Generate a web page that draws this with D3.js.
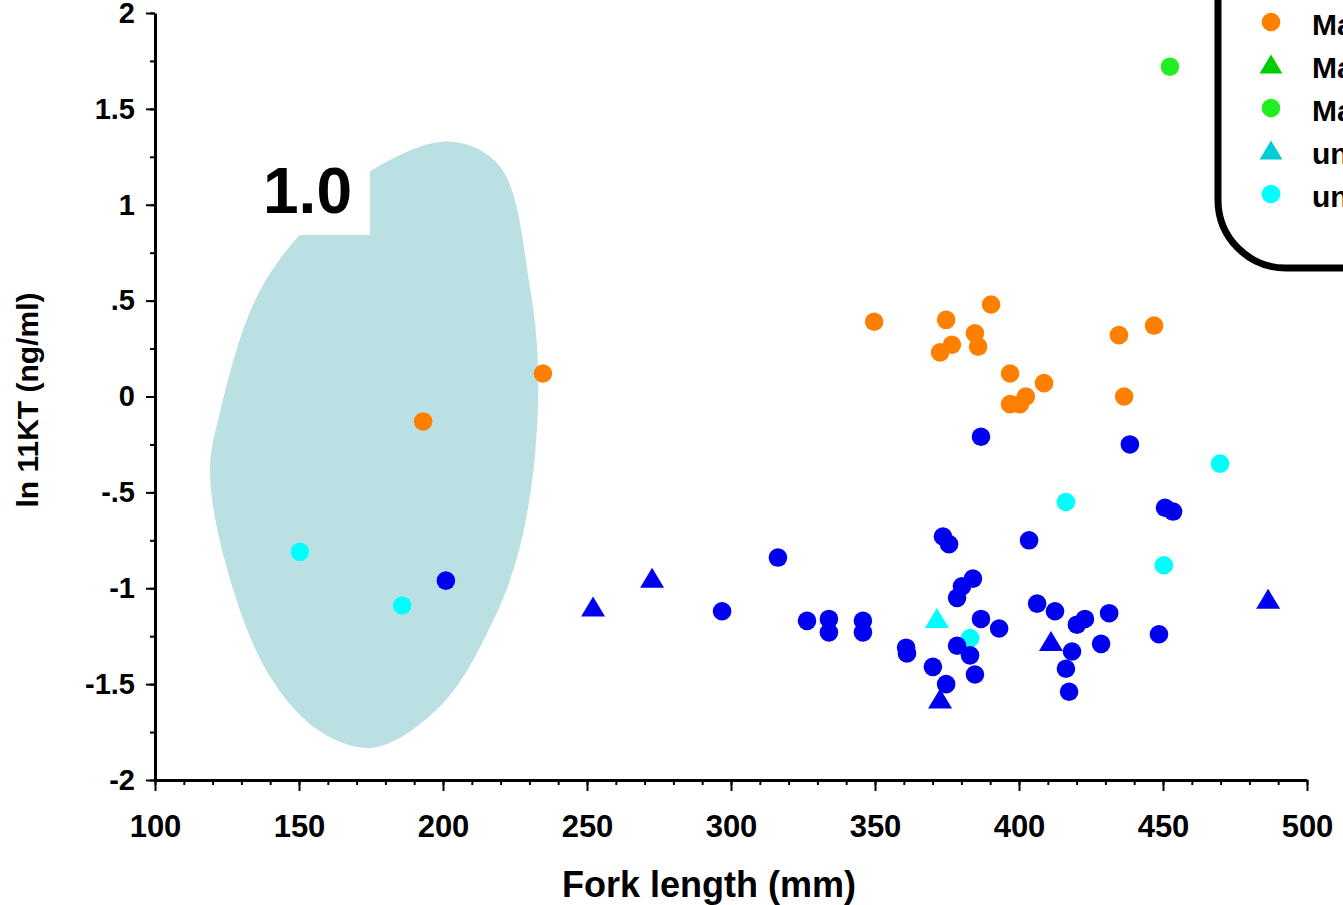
<!DOCTYPE html>
<html>
<head>
<meta charset="utf-8">
<script src="https://cdn.jsdelivr.net/npm/d3@7"></script>
<style>
body { margin: 0; background: #fff; }
svg { display: block; font-family: "Liberation Sans", Arial, sans-serif; font-weight: bold; }
</style>
</head>
<body>
<svg width="1343" height="905"></svg>
<script>
// data: [fork length (mm), ln 11KT (ng/ml)]
var maturingDots = [
    [193.1, -0.13], [234.7, 0.12], [349.7, 0.39], [374.7, 0.40], [372.6, 0.23],
    [376.7, 0.27], [384.7, 0.33], [385.8, 0.26], [390.3, 0.48], [396.9, 0.12],
    [396.9, -0.04], [400.3, -0.04], [402.4, 0.00], [408.7, 0.07], [434.7, 0.32],
    [446.9, 0.37], [436.5, 0.00]
];
var matureDots = [[452.4, 1.72]];
var unknownDots = [
    [150.3, -0.81], [185.8, -1.09], [469.8, -0.35], [416.3, -0.55], [450.3, -0.88], [383.0, -1.26]
];
var unknownTriangles = [[371.5, -1.16]];
var immatureDots = [
    [201.0, -0.96], [296.9, -1.12], [316.3, -0.84], [326.4, -1.17], [334.0, -1.16],
    [334.0, -1.23], [345.8, -1.17], [345.8, -1.23], [360.8, -1.31], [361.1, -1.34],
    [370.1, -1.41], [374.7, -1.50], [378.5, -1.30], [383.0, -1.35], [384.7, -1.45],
    [373.6, -0.73], [375.7, -0.77], [384.0, -0.95], [380.2, -0.99], [378.5, -1.05],
    [386.8, -1.16], [393.1, -1.21], [386.8, -0.21], [403.5, -0.75], [406.3, -1.08],
    [412.5, -1.12], [420.1, -1.19], [422.9, -1.16], [431.3, -1.13], [428.5, -1.29],
    [418.4, -1.33], [416.3, -1.42], [417.4, -1.54], [448.6, -1.24], [438.5, -0.25],
    [450.7, -0.58], [453.5, -0.60]
];
var immatureTriangles = [
    [252.1, -1.10], [272.6, -0.95], [372.6, -1.58], [411.1, -1.28], [486.5, -1.06]
];

// outline of the shaded "1.0" region
var regionOutline = [
    [202.1, 1.33], [219.8, 1.20], [230.2, 0.57], [233.0, 0.14], [231.3, -0.40],
    [225.7, -0.84], [217.4, -1.17], [200.0, -1.60], [176.4, -1.83], [157.6, -1.75],
    [140.3, -1.47], [126.0, -0.95], [119.1, -0.40], [122.6, -0.08], [134.7, 0.50],
    [150.0, 0.84], [175.3, 1.18]
];

var xTicks = [100, 150, 200, 250, 300, 350, 400, 450, 500];
var yTicks = [-2, -1.5, -1, -0.5, 0, 0.5, 1, 1.5, 2];
var yTickLabels = ["-2", "-1.5", "-1", "-.5", "0", ".5", "1", "1.5", "2"];

var legendLabels = ["Maturing", "Mature (site A)", "Mature (site B)", "unknown (site A)", "unknown (site B)"];
var legendColors = ["#ff8000", "#00cc00", "#22ee22", "#00ccd8", "#00ffff"];
var legendShapes = ["circle", "triangle", "circle", "triangle", "circle"];

var svg = d3.select("svg");

var x = d3.scaleLinear().domain([100, 500]).range([155, 1307]);
var y = d3.scaleLinear().domain([-2, 2]).range([780, 13]);

function triPath(s) {
    return "M0," + (-s * 0.55) + "L" + (s * 0.6) + "," + (s * 0.45) + "L" + (-s * 0.6) + "," + (s * 0.45) + "Z";
}

//////////// SHADED REGION ////////////

svg.append("path")
    .datum(regionOutline)
    .attr("d", d3.line()
        .x(function (d) { return x(d[0]); })
        .y(function (d) { return y(d[1]); })
        .curve(d3.curveCatmullRomClosed))
    .attr("fill", "#bbe0e3");

// white label box
svg.append("rect")
    .attr("x", 255).attr("y", 150)
    .attr("width", 115).attr("height", 85)
    .attr("fill", "#fff");

svg.append("text")
    .attr("x", 263).attr("y", 213)
    .attr("font-size", 64)
    .text("1.0");

//////////// AXES ////////////

// minor ticks
svg.append("g")
    .attr("transform", "translate(0,780)")
    .call(d3.axisBottom(x).tickValues(d3.range(100, 501, 10)).tickSize(5).tickFormat("").tickSizeOuter(0))
    .call(function (g) { g.select(".domain").remove(); });
svg.append("g")
    .attr("transform", "translate(155,0)")
    .call(d3.axisLeft(y).tickValues(d3.range(-2, 2.01, 0.25)).tickSize(5).tickFormat("").tickSizeOuter(0))
    .call(function (g) { g.select(".domain").remove(); });

var xAxis = svg.append("g")
    .attr("transform", "translate(0,780)")
    .call(d3.axisBottom(x).tickValues(xTicks).tickSize(11).tickPadding(24).tickSizeOuter(0));
xAxis.selectAll("text").attr("font-size", 31).attr("font-family", "Liberation Sans, Arial").attr("font-weight", "bold").attr("fill", "#000");

var yAxis = svg.append("g")
    .attr("transform", "translate(155,0)")
    .call(d3.axisLeft(y).tickValues(yTicks).tickSize(9).tickPadding(11).tickSizeOuter(0)
        .tickFormat(function (d, i) { return yTickLabels[i]; }));
yAxis.selectAll("text").attr("font-size", 29).attr("font-family", "Liberation Sans, Arial").attr("font-weight", "bold").attr("fill", "#000");

svg.selectAll(".tick line").attr("stroke", "#000").attr("stroke-width", 2);
svg.selectAll(".domain").attr("stroke", "#000").attr("stroke-width", 3);

svg.append("text")
    .attr("x", 709).attr("y", 897)
    .attr("text-anchor", "middle")
    .attr("font-size", 36)
    .text("Fork length (mm)");

svg.append("text")
    .attr("transform", "translate(38,400) rotate(-90)")
    .attr("text-anchor", "middle")
    .attr("font-size", 30)
    .text("ln 11KT (ng/ml)");

//////////// POINTS ////////////

function drawDots(data, colour) {
    svg.append("g").selectAll("circle")
        .data(data)
        .enter().append("circle")
        .attr("cx", function (d) { return x(d[0]); })
        .attr("cy", function (d) { return y(d[1]); })
        .attr("r", 9.3)
        .attr("fill", colour);
}

function drawTriangles(data, colour) {
    svg.append("g").selectAll("path")
        .data(data)
        .enter().append("path")
        .attr("transform", function (d) { return "translate(" + x(d[0]) + "," + y(d[1]) + ")"; })
        .attr("d", triPath(20))
        .attr("fill", colour);
}

drawDots(unknownDots, "#00ffff");
drawTriangles(unknownTriangles, "#00ffff");
drawDots(maturingDots, "#ff8000");
drawDots(matureDots, "#22ee22");
drawDots(immatureDots, "#0000f0");
drawTriangles(immatureTriangles, "#0000f0");

//////////// LEGEND ////////////

var legend = svg.append("g");
legend.append("rect")
    .attr("x", 1218).attr("y", -300)
    .attr("width", 420).attr("height", 568)
    .attr("rx", 68).attr("ry", 68)
    .attr("fill", "#fff")
    .attr("stroke", "#000")
    .attr("stroke-width", 7);

var items = legend.selectAll("g.item")
    .data(legendLabels)
    .enter().append("g")
    .attr("class", "item")
    .attr("transform", function (d, i) { return "translate(1271," + (22 + i * 43) + ")"; });

items.each(function (d, i) {
    var g = d3.select(this);
    if (legendShapes[i] == "circle") {
        g.append("circle").attr("r", 9.3).attr("fill", legendColors[i]);
    } else {
        g.append("path").attr("d", triPath(19)).attr("fill", legendColors[i]);
    }
    g.append("text")
        .attr("x", 41).attr("y", 13)
        .attr("font-size", 30)
        .text(d);
});
</script>
</body>
</html>
